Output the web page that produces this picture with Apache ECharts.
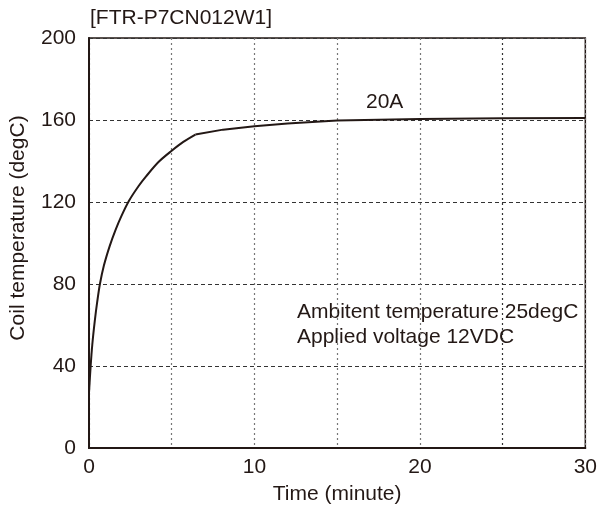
<!DOCTYPE html>
<html>
<head>
<meta charset="utf-8">
<script src="https://cdn.jsdelivr.net/npm/echarts@6/dist/echarts.min.js"></script>
<style>html,body{margin:0;padding:0;background:#fff}#c{width:600px;height:516px}</style>
</head>
<body>
<div id="c"></div>
<script>
// rising part (smooth) and settling part (straight segments)
const timeRise = [0, 0.1, 0.2, 0.35, 0.5, 0.66, 0.9, 1.25, 1.6, 1.95, 2.41, 3.0, 3.45, 4.2, 5.0, 5.7, 6.43];
const tempRise = [27, 40, 50.5, 62, 71.5, 80, 89, 98.5, 106.3, 113, 120.5, 127.8, 132.5, 139.5, 145, 149.3, 152.9];
const timeSettle = [6.43, 8.1, 10, 12, 15, 20, 25, 30];
const tempSettle = [152.9, 155.3, 157, 158.3, 159.8, 160.5, 160.8, 161];
const xTicks = [0, 10, 20, 30];
const yTicks = [0, 40, 80, 120, 160, 200];

const font = '"Liberation Sans", Arial, sans-serif';
const ink = '#231815';
const fs = 21;
const chart = echarts.init(document.getElementById('c'));
const lineSeries = (xs, ys, smooth) => ({
  type: 'line',
  data: xs.map((t, i) => [t, ys[i]]),
  showSymbol: false,
  smooth: smooth ? 0.3 : false,
  lineStyle: { color: ink, width: 2 },
  z: 5
});
chart.setOption({
  animation: false,
  grid: { left: 89, top: 38, width: 503, height: 410, show: true, borderColor: ink, borderWidth: 1.5, backgroundColor: 'transparent' },
  xAxis: {
    type: 'value', min: 0, max: 30, interval: 5,
    axisLine: { show: true, lineStyle: { color: ink, width: 2 } },
    axisTick: { show: false },
    axisLabel: { color: ink, fontFamily: font, fontSize: fs, margin: 9,
      formatter: v => xTicks.includes(v) ? String(v) : '' },
    splitLine: { show: true, lineStyle: { color: ['#777','#777','#777','#777','#777','#333','#777'], type: [2, 3], width: 1.2 } },
    name: 'Time (minute)', nameLocation: 'middle', nameGap: 36,
    nameTextStyle: { color: ink, fontFamily: font, fontSize: fs }
  },
  yAxis: {
    type: 'value', min: 0, max: 200, interval: 40,
    axisLine: { show: true, lineStyle: { color: ink, width: 2 } },
    axisTick: { show: false },
    axisLabel: { color: ink, fontFamily: font, fontSize: fs, margin: 13,
      formatter: v => yTicks.includes(v) ? String(v) : '' },
    splitLine: { show: true, lineStyle: { color: '#333', type: [4, 3], width: 1 } }
  },
  graphic: [
    { type: 'text', left: 90, top: 8, style: { text: '[FTR-P7CN012W1]', fill: ink, font: fs + 'px ' + font } },
    { type: 'text', left: 366, top: 92, style: { text: '20A', fill: ink, font: fs + 'px ' + font } },
    { type: 'text', left: 297, top: 300, style: { text: 'Ambitent temperature 25degC\nApplied voltage 12VDC', fill: ink, font: fs + 'px ' + font, lineHeight: 25 } },
    { type: 'text', x: 18, y: 228, rotation: Math.PI / 2, style: { text: 'Coil temperature (degC)', fill: ink, font: fs + 'px ' + font, align: 'center', verticalAlign: 'middle' } }
  ],
  series: [lineSeries(timeRise, tempRise, true), lineSeries(timeSettle, tempSettle, false)]
});
</script>
</body>
</html>
